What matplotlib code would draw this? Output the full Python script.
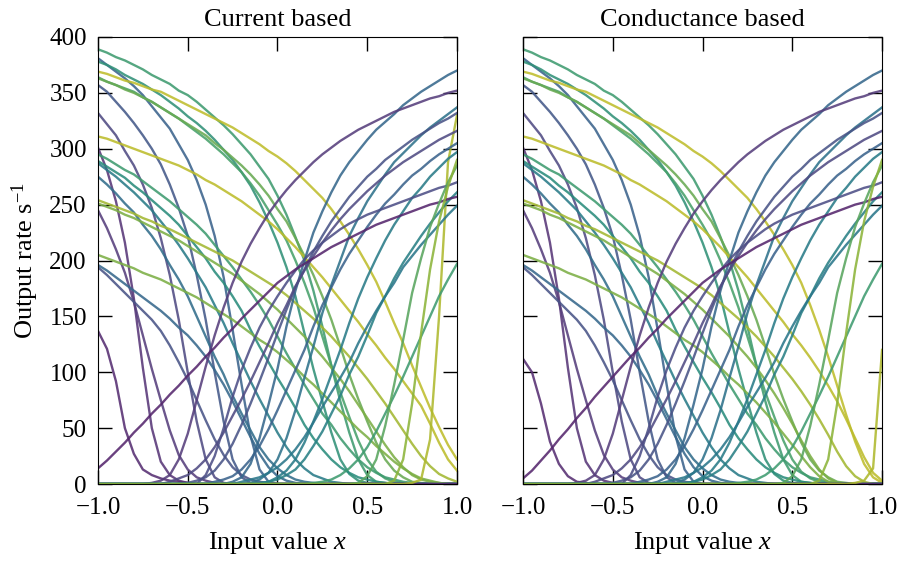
import numpy as np
import matplotlib
matplotlib.use("Agg")
import matplotlib.pyplot as plt
from matplotlib.colors import LinearSegmentedColormap

# input values: 41 samples between -1 and 1
input_x = np.linspace(-1.0, 1.0, 41)

# rates (1/s) of the neurons whose rate falls with x (read from the left edge on,
# zeros after the listed values)
current_falling = [
    [389, 386, 382, 379, 375, 371, 366, 362, 358, 352, 348, 342, 335, 328, 321, 313, 304, 295, 284, 273, 258, 241, 221, 200, 173, 141, 106, 74, 46, 22, 8, 2, 1],
    [381, 375, 369, 363, 356, 348, 338, 328, 318, 304, 290, 272, 250, 222, 185, 138, 89, 43, 13, 2],
    [378, 375, 371, 366, 362, 358, 353, 348, 342, 336, 329, 323, 316, 308, 299, 290, 279, 267, 252, 235, 216, 194, 168, 135, 103, 74, 46, 22, 9, 3, 1],
    [369, 367, 364, 361, 359, 356, 353, 351, 347, 343, 339, 335, 331, 327, 323, 319, 314, 309, 304, 298, 293, 287, 280, 272, 264, 256, 246, 235, 223, 210, 196, 181, 163, 144, 126, 106, 87, 68, 51, 35, 22],
    [364, 360, 357, 354, 351, 346, 342, 337, 332, 327, 321, 315, 309, 302, 295, 287, 279, 269, 258, 245, 232, 218, 200, 180, 158, 132, 106, 82, 60, 39, 22, 11, 5, 2, 1],
    [363, 360, 357, 353, 350, 346, 342, 337, 332, 327, 322, 317, 312, 305, 299, 292, 285, 277, 268, 258, 246, 235, 220, 204, 187, 168, 147, 123, 98, 76, 56, 37, 22, 12, 6, 2, 1],
    [357, 351, 342, 333, 323, 312, 300, 286, 268, 247, 222, 187, 147, 100, 56, 22, 6, 1],
    [332, 322, 312, 298, 285, 268, 247, 220, 187, 147, 100, 56, 22, 6, 1],
    [311, 309, 306, 303, 300, 297, 294, 291, 288, 285, 281, 277, 272, 268, 263, 258, 253, 247, 241, 235, 228, 220, 212, 203, 194, 185, 175, 165, 155, 145, 134, 124, 113, 103, 92, 81, 70, 54, 37, 22, 12],
    [301, 281, 253, 216, 166, 104, 50, 20, 8, 3, 1],
    [295, 291, 286, 281, 277, 271, 265, 259, 253, 246, 239, 232, 224, 214, 204, 194, 183, 172, 160, 147, 132, 117, 103, 89, 76, 63, 53, 41, 31, 22, 15, 10, 6, 4, 2, 1],
    [289, 284, 279, 274, 267, 261, 254, 247, 240, 232, 222, 212, 202, 190, 180, 168, 155, 138, 123, 109, 95, 82, 68, 53, 41, 31, 22, 15, 10, 6, 4, 2, 1],
    [287, 281, 275, 268, 261, 253, 245, 235, 225, 214, 202, 189, 176, 160, 144, 126, 109, 92, 76, 61, 46, 33, 22, 14, 8, 5, 2, 1],
    [275, 268, 260, 251, 243, 232, 222, 210, 196, 183, 168, 150, 132, 114, 98, 79, 63, 48, 33, 22, 14, 8, 4, 2, 1],
    [254, 251, 248, 245, 242, 238, 235, 231, 228, 224, 220, 216, 212, 208, 204, 200, 195, 190, 185, 180, 175, 169, 162, 155, 148, 140, 132, 123, 114, 104, 94, 83, 72, 60, 48, 36, 25, 16, 9, 5, 2],
    [251, 248, 245, 241, 238, 234, 230, 226, 222, 218, 213, 208, 203, 198, 193, 188, 182, 176, 170, 163, 156, 148, 140, 132, 123, 114, 104, 94, 83, 71, 59, 47, 35, 24, 15, 8, 4, 2, 1],
    [245, 229, 210, 189, 163, 133, 103, 75, 48, 26, 13, 6, 3, 1],
    [205, 202, 199, 196, 193, 189, 186, 183, 179, 175, 171, 167, 162, 157, 152, 147, 141, 135, 129, 124, 118, 111, 104, 96, 89, 81, 73, 65, 57, 49, 42, 34, 27, 20, 14, 9, 5, 3, 1],
    [196, 191, 185, 179, 173, 167, 161, 155, 148, 140, 133, 124, 114, 102, 89, 74, 58, 42, 27, 15, 7, 3, 1],
    [194, 187, 179, 171, 163, 155, 147, 137, 124, 109, 93, 75, 57, 40, 26, 15, 8, 4, 2, 1],
    [137, 121, 92, 50, 27, 13, 8, 5, 3, 2, 1],
]

# rates of the neurons whose rate rises with x (values end at x = 1,
# zeros before the listed values)
current_rising = [
    [2, 6, 18, 41, 71, 103, 141, 173, 200, 225, 244, 261, 276, 288, 298, 308, 317, 324, 331, 339, 345, 351, 356, 361, 366, 370],
    [0, 1, 3, 8, 22, 45, 75, 105, 133, 158, 180, 199, 215, 229, 242, 253, 263, 272, 280, 288, 295, 301, 307, 312, 317, 321, 325, 329, 333, 336, 339, 342, 345, 347, 350, 352],
    [1, 4, 10, 22, 41, 66, 95, 123, 153, 178, 200, 222, 238, 253, 265, 277, 288, 296, 304, 312, 319, 325, 331, 337],
    [0, 1, 4, 40, 150, 288, 330],
    [1, 3, 6, 12, 22, 36, 53, 72, 92, 113, 135, 156, 176, 192, 208, 222, 235, 246, 257, 266, 275, 282, 290, 296, 302, 308, 313, 318, 323, 327, 332],
    [2, 5, 8, 14, 22, 33, 46, 61, 76, 92, 109, 126, 144, 160, 177, 191, 204, 216, 227, 237, 246, 254, 262, 269, 276, 282, 288, 293, 298, 303, 308, 312, 316],
    [2, 4, 7, 13, 22, 34, 49, 66, 84, 102, 120, 141, 160, 176, 192, 206, 218, 230, 241, 251, 259, 268, 276, 282, 289, 295, 300, 305],
    [1, 2, 6, 12, 22, 37, 56, 76, 98, 120, 144, 166, 185, 202, 218, 232, 244, 256, 265, 275, 283, 291, 297],
    [0, 8, 25, 50, 78, 102, 122, 140, 155, 168, 180, 191, 201, 209, 216, 222, 228, 233, 237, 241, 244, 247, 250, 253, 256, 259, 262, 265, 267, 270],
    [2, 4, 8, 13, 22, 34, 47, 63, 79, 98, 114, 133, 153, 168, 184, 198, 210, 222, 233, 243, 253, 261],
    [14, 21, 29, 37, 46, 54, 63, 71, 80, 88, 97, 105, 114, 122, 131, 139, 148, 156, 164, 172, 180, 186, 192, 197, 202, 207, 212, 216, 220, 224, 228, 232, 235, 238, 241, 244, 247, 250, 252, 255, 257],
    [2, 4, 6, 10, 15, 22, 31, 42, 55, 69, 82, 95, 109, 126, 141, 155, 168, 180, 194, 204, 214, 223, 232, 241, 249],
    [1, 2, 4, 8, 14, 22, 33, 47, 63, 79, 96, 114, 132, 150, 168, 183, 197],
    [1, 7, 22, 52, 89, 129, 171, 202, 230, 251, 270, 285],
    [3, 22, 72, 135, 192, 235, 266, 290],
]

# conductance based neurons: same tuning, sharper near threshold
conductance_falling = list(current_falling)
conductance_falling[3] = [369, 367, 364, 361, 359, 356, 353, 351, 347, 343, 339, 335, 331, 327, 323, 319, 314, 309, 304, 298, 293, 287, 280, 272, 264, 256, 246, 235, 223, 210, 196, 180, 160, 138, 114, 88, 62, 38, 18, 6, 1]
conductance_falling[8] = [311, 309, 306, 303, 300, 297, 294, 291, 288, 285, 281, 277, 272, 268, 263, 258, 253, 247, 241, 235, 228, 220, 212, 203, 194, 185, 175, 165, 155, 145, 134, 124, 113, 101, 88, 74, 58, 41, 24, 10, 3]
conductance_falling[14] = [254, 251, 248, 245, 242, 238, 235, 231, 228, 224, 220, 216, 212, 208, 204, 200, 195, 190, 185, 180, 175, 169, 162, 155, 148, 140, 132, 123, 114, 104, 94, 83, 71, 58, 44, 29, 16, 7, 2]
conductance_falling[15] = [251, 248, 245, 241, 238, 234, 230, 226, 222, 218, 213, 208, 203, 198, 193, 188, 182, 176, 170, 163, 156, 148, 140, 132, 123, 114, 104, 93, 81, 68, 54, 39, 25, 13, 5, 1]
conductance_falling[17] = [205, 202, 199, 196, 193, 189, 186, 183, 179, 175, 171, 167, 162, 157, 152, 147, 141, 135, 129, 124, 118, 111, 104, 96, 89, 81, 73, 64, 55, 45, 35, 25, 15, 7, 2]
conductance_falling[20] = [112, 100, 72, 38, 18, 7, 2, 1]

conductance_rising = list(current_rising)
conductance_rising[3] = [0, 1, 3, 14, 120]
conductance_rising[10] = [5, 12, 21, 30, 40, 49, 59, 68, 78, 87, 96, 105, 114, 122, 131, 139, 148, 156, 164, 172, 180, 186, 192, 197, 202, 207, 212, 216, 220, 224, 228, 232, 235, 238, 241, 244, 247, 250, 252, 255, 257]

n = len(input_x)


def falling(v):
    return np.array(v + [0] * (n - len(v)), dtype=float)


def rising(v):
    return np.array([0] * (n - len(v)) + v, dtype=float)


def threshold_x(r):
    # where the neuron stops firing, used for the colour
    on = input_x[r >= 20]
    return on[-1] if r[0] > r[-1] else on[0]


plt.rcParams['font.family'] = 'Liberation Serif'
plt.rcParams['mathtext.fontset'] = 'custom'
plt.rcParams['mathtext.rm'] = 'Liberation Serif'
plt.rcParams['mathtext.it'] = 'Liberation Serif:italic'

# muted viridis-like map, threshold at x=-1 -> purple, x=1 -> olive yellow
cmap = LinearSegmentedColormap.from_list("tuning", [
    (0.00, "#55236b"),
    (0.20, "#583a7a"),
    (0.33, "#4d5086"),
    (0.43, "#3a648c"),
    (0.53, "#29788a"),
    (0.65, "#2a8c7c"),
    (0.75, "#46a06c"),
    (0.85, "#8cb43a"),
    (0.95, "#b9bb2a"),
    (1.00, "#bfbd2c"),
])

fig = plt.figure(figsize=(9.03, 5.63), dpi=100)
ax1 = fig.add_axes([0.1085, 0.1403, 0.3976, 0.794])
ax2 = fig.add_axes([0.5792, 0.1403, 0.3976, 0.794], sharey=ax1)

cur = [falling(v) for v in current_falling] + [rising(v) for v in current_rising]
con = [falling(v) for v in conductance_falling] + [rising(v) for v in conductance_rising]
colors = [cmap((threshold_x(r) + 1) / 2) for r in cur]

for ax, rates, title in [(ax1, cur, "Current based"), (ax2, con, "Conductance based")]:
    for r, c in zip(rates, colors):
        ax.plot(input_x, r, color=c, lw=1.7, alpha=0.88, solid_joinstyle='round')
    ax.set_xlim(-1, 1)
    ax.set_ylim(0, 400)
    ax.set_xticks([-1, -0.5, 0, 0.5, 1])
    ax.set_xticklabels(["\u22121.0", "\u22120.5", "0.0", "0.5", "1.0"])
    ax.set_yticks(np.arange(0, 401, 50))
    ax.tick_params(direction='in', top=True, right=True, length=10, width=1,
                   labelsize=18)
    ax.tick_params(axis='x', pad=9)
    ax.tick_params(axis='y', pad=8)
    ax.set_title(title, fontsize=19, pad=8)
    ax.set_xlabel("Input value $x$", fontsize=19, labelpad=8)

ax1.set_ylabel("Output rate s$^{-1}$", fontsize=19, labelpad=6)
plt.setp(ax2.get_yticklabels(), visible=False)

fig.savefig("out.png", dpi=100)
